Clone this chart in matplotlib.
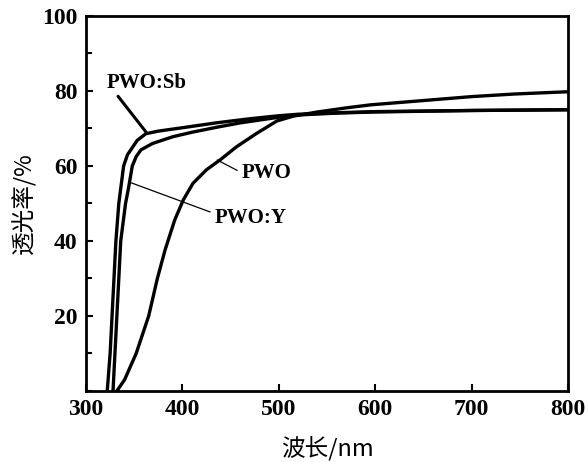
import matplotlib
matplotlib.use('Agg')
import matplotlib.pyplot as plt
from matplotlib.ticker import MultipleLocator

# data (wavelength nm, transmittance %)
sb_wl = [322, 325, 327, 329, 331, 334, 337, 339, 343, 347, 353, 362, 375, 386,
         400, 435, 470, 500, 520, 560, 600, 700, 800]
sb_t  = [0, 10, 20, 30, 40, 50, 56, 60, 63, 64.5, 66.8, 68.6, 69.3, 69.7,
         70.2, 71.5, 72.6, 73.4, 73.8, 74.2, 74.5, 74.8, 75.0]

y_wl = [328, 330, 332, 334, 336, 341, 344, 348, 352, 357, 369, 390, 410, 435,
        460, 500, 520, 560, 600, 700, 800]
y_t  = [0, 10, 20, 30, 40, 50, 54, 60, 62.5, 64.3, 66, 67.8, 69, 70.3,
        71.5, 73, 73.6, 74.1, 74.4, 74.8, 75.0]

pwo_wl = [332, 340, 352, 365, 374, 382, 392, 401, 411, 425, 439, 456, 477, 498,
          515, 540, 570, 595, 657, 700, 745, 800]
pwo_t  = [0, 3, 10, 20, 30, 37.6, 45.6, 51, 55.4, 59, 61.6, 65.1, 68.7, 72.0,
          73.3, 74.4, 75.5, 76.3, 77.6, 78.5, 79.2, 79.8]

xticks = [300, 400, 500, 600, 700, 800]
yticks = [20, 40, 60, 80, 100]

serif = ['Liberation Serif', 'DejaVu Serif']
cjk = ['Noto Sans CJK SC', 'DejaVu Sans']

fig = plt.figure(figsize=(5.88, 4.62), dpi=100)
ax = fig.add_axes([0.1463, 0.1537, 0.966 - 0.1463, 0.9654 - 0.1537])

ax.plot(sb_wl, sb_t, color='black', lw=2.4)
ax.plot(y_wl, y_t, color='black', lw=2.4)
ax.plot(pwo_wl, pwo_t, color='black', lw=2.4)

ax.set_xlim(300, 800)
ax.set_ylim(0, 100)
ax.set_xticks(xticks)
ax.set_yticks(yticks)
ax.yaxis.set_minor_locator(MultipleLocator(10))
ax.tick_params(axis='both', which='both', direction='in', width=1.5)
ax.tick_params(axis='both', which='major', length=5, pad=6)
ax.tick_params(axis='y', which='minor', length=4)
for lab in ax.get_xticklabels() + ax.get_yticklabels():
    lab.set_family(serif)
    lab.set_fontsize(17)
    lab.set_fontweight('bold')
for sp in ax.spines.values():
    sp.set_linewidth(2)

ax.set_xlabel('波长/nm', family=cjk, fontsize=17, labelpad=12)
ax.set_ylabel('透光率/%', family=cjk, fontsize=17, labelpad=4)

# labels with pointer lines
ax.annotate('PWO:Sb', xy=(363, 68.8), xytext=(321, 82), family=serif,
            fontsize=15, fontweight='bold', va='center', ha='left',
            arrowprops=dict(arrowstyle='-', color='black', lw=2.2,
                            shrinkA=0, shrinkB=0, relpos=(0.12, 0.0)))
ax.annotate('PWO', xy=(436, 61.6), xytext=(461, 58.0), family=serif,
            fontsize=15, fontweight='bold', va='center', ha='left',
            arrowprops=dict(arrowstyle='-', color='black', lw=0.9,
                            shrinkA=1, shrinkB=0, relpos=(0.0, 0.55)))
ax.annotate('PWO:Y', xy=(347, 55.5), xytext=(433, 46.0), family=serif,
            fontsize=15, fontweight='bold', va='center', ha='left',
            arrowprops=dict(arrowstyle='-', color='black', lw=0.9,
                            shrinkA=1, shrinkB=0, relpos=(0.0, 0.75)))

fig.savefig('out.png', dpi=100)
